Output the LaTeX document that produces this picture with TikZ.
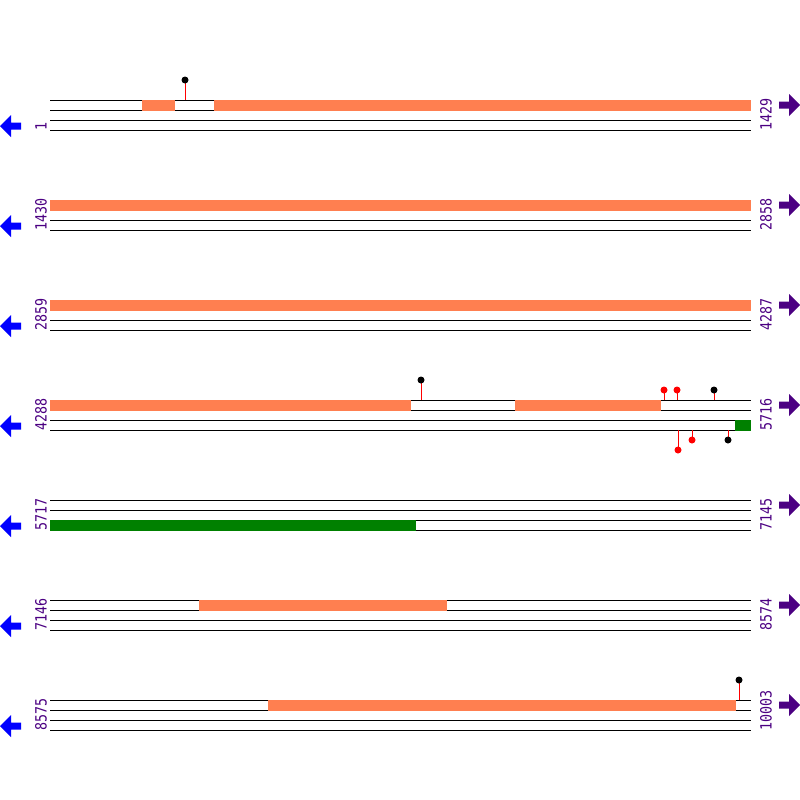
\documentclass[tikz,border=0pt]{standalone}
\usepackage{fontspec}
\newfontfamily\lblfont[FakeStretch=0.86]{DejaVu Sans Mono}
\definecolor{coral}{HTML}{FF7F50}
\definecolor{dgreen}{HTML}{008000}
\definecolor{indig}{HTML}{4B0082}
\tikzset{
  track/.style={draw=black, line width=1pt},
  orangebar/.style={fill=coral},
  greenbar/.style={fill=dgreen},
  lbl/.style={text=indig, font=\lblfont\fontsize{15.5}{15.5}\selectfont, inner sep=0pt, rotate=90, anchor=west},
  stem/.style={draw=red, line width=1pt},
  lolli/.style={radius=3.5pt},
}
\begin{document}
\begin{tikzpicture}[x=1pt,y=-1pt]
\useasboundingbox (0,0) rectangle (800,800);
\foreach \t/\a/\b in {100/1/1429,200/1430/2858,300/2859/4287,400/4288/5716,500/5717/7145,600/7146/8574,700/8575/10003}{
  \foreach \d in {0,10,20,30} \draw[track] (50,\t+\d) -- (751,\t+\d);
  \node[lbl] (left\t) at (41,\t+31) {\a};
  \node[lbl] (right\t) at (766,\t+31) {\b};
  \fill[blue] (0,\t+26) -- (11,\t+15) -- (11,\t+22.5) -- (21,\t+22.5) -- (21,\t+29.5) -- (11,\t+29.5) -- (11,\t+37) -- cycle;
  \fill[indig] (800,\t+5) -- (789,\t-6) -- (789,\t+1.5) -- (779,\t+1.5) -- (779,\t+8.5) -- (789,\t+8.5) -- (789,\t+16) -- cycle;
}
% row 1
\fill[orangebar] (142,99.5) rectangle (175,110.5);
\fill[orangebar] (214,99.5) rectangle (751,110.5);
\draw[stem] (185,100) -- (185,80); \fill[black] (185,80) circle[lolli];
% row 2, 3
\fill[orangebar] (50,199.5) rectangle (751,210.5);
\fill[orangebar] (50,299.5) rectangle (751,310.5);
% row 4
\fill[orangebar] (50,399.5) rectangle (411,410.5);
\fill[orangebar] (515,399.5) rectangle (661,410.5);
\fill[greenbar] (735,419.5) rectangle (751,430.5);
\draw[stem] (421,400) -- (421,380); \fill[black] (421,380) circle[lolli];
\draw[stem] (664,400) -- (664,390); \fill[red] (664,390) circle[lolli];
\draw[stem] (677,400) -- (677,390); \fill[red] (677,390) circle[lolli];
\draw[stem] (714,400) -- (714,390); \fill[black] (714,390) circle[lolli];
\draw[stem] (678,430) -- (678,450); \fill[red] (678,450) circle[lolli];
\draw[stem] (692,430) -- (692,440); \fill[red] (692,440) circle[lolli];
\draw[stem] (728,430) -- (728,440); \fill[black] (728,440) circle[lolli];
% row 5
\fill[greenbar] (50,519.5) rectangle (416,530.5);
% row 6
\fill[orangebar] (199,599.5) rectangle (447,610.5);
% row 7
\fill[orangebar] (268,699.5) rectangle (736,710.5);
\draw[stem] (739,700) -- (739,680); \fill[black] (739,680) circle[lolli];
\end{tikzpicture}
\end{document}
